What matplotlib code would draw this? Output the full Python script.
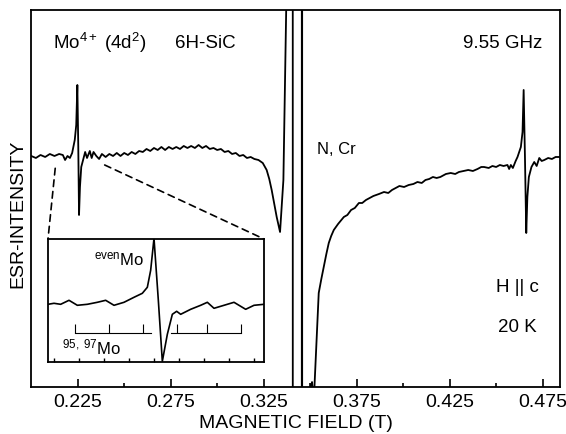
import matplotlib
matplotlib.use('Agg')
import matplotlib.pyplot as plt
from matplotlib.patches import ConnectionPatch
import numpy as np

plt.rcParams['font.family'] = ['Liberation Sans', 'DejaVu Sans']
plt.rcParams['mathtext.fontset'] = 'custom'
plt.rcParams['mathtext.rm'] = 'Liberation Sans'
plt.rcParams['mathtext.it'] = 'Liberation Sans:italic'

# ESR trace, magnetic field (T) vs. intensity (arb. units)
campo_izq = [0.2000, 0.2025, 0.2050, 0.2075, 0.2100, 0.2125, 0.2150, 0.2170, 0.2182, 0.2195,
             0.2208, 0.2220, 0.2234, 0.2242, 0.2248, 0.2253, 0.2257, 0.2262, 0.2269, 0.2280,
             0.2290, 0.2300, 0.2315, 0.2325, 0.2335, 0.2350, 0.2365, 0.2380, 0.2400, 0.2420,
             0.2440, 0.2460, 0.2480, 0.2500, 0.2520, 0.2540, 0.2560, 0.2580, 0.2600, 0.2620,
             0.2640, 0.2660, 0.2680, 0.2700, 0.2720, 0.2740, 0.2760, 0.2780, 0.2800, 0.2820,
             0.2840, 0.2860, 0.2880, 0.2900, 0.2920, 0.2940, 0.2960, 0.2980, 0.3000, 0.3020,
             0.3040, 0.3060, 0.3080, 0.3100, 0.3120, 0.3140, 0.3160, 0.3180, 0.3200, 0.3222,
             0.3245, 0.3266, 0.3280, 0.3293, 0.3320, 0.3338, 0.3356, 0.3372]
int_izq = [231, 229, 232, 230, 233, 231, 233, 232, 227, 231,
           229, 234, 247, 262, 302, 240, 172, 200, 220, 228,
           235, 229, 236, 229, 235, 231, 228, 233, 230, 233,
           231, 234, 231, 234, 232, 235, 233, 236, 235, 238,
           236, 239, 237, 240, 237, 240, 238, 240, 238, 241,
           239, 241, 239, 242, 239, 241, 238, 239, 237, 238,
           235, 236, 233, 234, 231, 232, 229, 230, 228, 227,
           224, 217, 208, 197, 170, 155, 207, 385]

# central N, Cr line (off scale)
campo_centro = [0.3405, 0.3408, 0.3454, 0.3456, 0.3458, 0.3500, 0.3504, 0.3507, 0.3510, 0.3514]
int_centro = [5000, -5000, -5000, 5000, -5000, -5, 3, -2, 5, -5]

campo_der = [0.3523, 0.3535, 0.3546, 0.3560, 0.3573, 0.3587, 0.3600, 0.3613, 0.3627, 0.3650,
             0.3681, 0.3700, 0.3720, 0.3740, 0.3762, 0.3780, 0.3800, 0.3820, 0.3840, 0.3870,
             0.3897, 0.3920, 0.3940, 0.3960, 0.3980, 0.4005, 0.4030, 0.4055, 0.4077, 0.4100,
             0.4120, 0.4140, 0.4160, 0.4180, 0.4200, 0.4230, 0.4256, 0.4280, 0.4300, 0.4325,
             0.4350, 0.4375, 0.4400, 0.4420, 0.4435, 0.4460, 0.4480, 0.4500, 0.4520, 0.4540,
             0.4561, 0.4570, 0.4579, 0.4590, 0.4605, 0.4615, 0.4633, 0.4642, 0.4648, 0.4655,
             0.4662, 0.4668, 0.4676, 0.4690, 0.4705, 0.4718, 0.4732, 0.4745, 0.4759, 0.4780,
             0.4800, 0.4820, 0.4849]
int_der = [0, 50, 94, 108, 120, 133, 144, 151, 157, 163,
           170, 172, 177, 179, 184, 184, 187, 189, 191, 193,
           195, 194, 197, 199, 201, 200, 202, 203, 205, 204,
           207, 208, 210, 209, 210, 213, 214, 213, 215, 216,
           217, 216, 218, 220, 220, 219, 221, 220, 222, 221,
           222, 218, 222, 219, 226, 230, 240, 255, 297, 230,
           154, 190, 210, 220, 225, 221, 229, 226, 227, 229,
           228, 230, 230]

# inset: even Mo line, field offset (arb. units)
off_ins = [-3.33, -3.15, -2.95, -2.70, -2.45, -2.15, -1.85, -1.60, -1.35, -1.05,
           -0.75, -0.50, -0.35, -0.25, -0.15, -0.02, 0.10, 0.25, 0.40, 0.53,
           0.65, 0.95, 1.25, 1.45, 1.65, 1.95, 2.25, 2.60, 2.85, 3.15]
int_ins = [58, 59, 58, 62, 57, 58, 60, 62, 57, 60,
           65, 69, 75, 92, 124, 62, 1, 28, 48, 51,
           48, 53, 57, 60, 54, 57, 60, 53, 57, 58]

# 95,97Mo hyperfine sextet
hf_pos = [-2.53, -1.50, -0.47, 0.55, 1.45, 2.45]
hf_base, hf_top = 29, 38
hf_tramos = [(-2.53, -0.23), (0.37, 2.45)]

fig = plt.figure(figsize=(5.66, 4.34), dpi=100)
ax = fig.add_axes([0.0542, 0.1083, 0.9357, 0.8687])

ax.plot(campo_izq + campo_centro + campo_der, int_izq + int_centro + int_der,
        color='black', lw=1.3)
ax.set_xlim(0.1997, 0.4845)
ax.set_ylim(0, 377)
ax.set_xticks([0.225, 0.275, 0.325, 0.375, 0.425, 0.475])
ax.set_xticks([0.25, 0.30, 0.35, 0.40, 0.45], minor=True)
ax.xaxis.set_major_formatter(matplotlib.ticker.FormatStrFormatter('%.3f'))
ax.tick_params(axis='x', which='major', direction='in', length=6, width=1.2,
               labelsize=14, pad=5)
ax.tick_params(axis='x', which='minor', direction='in', length=3, width=1.2)
ax.set_yticks([])
for s in ax.spines.values():
    s.set_linewidth(1.3)
ax.set_xlabel('MAGNETIC FIELD (T)', fontsize=14, labelpad=3)
ax.set_ylabel('ESR-INTENSITY', fontsize=14)
ax.yaxis.set_label_coords(-0.008, 0.46)

ax.text(53, 434 - 43, r'Mo$^{4+}$ (4d$^2$)', transform=None, fontsize=13.5, va='center')
ax.text(175, 434 - 43, '6H-SiC', transform=None, fontsize=13.5, va='center')
ax.text(542, 434 - 43, '9.55 GHz', transform=None, fontsize=13.5, va='center', ha='right')
ax.text(317, 434 - 150, 'N, Cr', transform=None, fontsize=12, va='center')
ax.text(539, 434 - 288, 'H || c', transform=None, fontsize=13.5, va='center', ha='right')
ax.text(537, 434 - 328, '20 K', transform=None, fontsize=13.5, va='center', ha='right')

# inset
ax_in = fig.add_axes([48 / 566, (434 - 362.3) / 434, 216 / 566, 123.3 / 434])
ax_in.plot(off_ins, int_ins, color='black', lw=1.2)
ax_in.vlines(hf_pos, hf_base, hf_top, color='black', lw=0.8)
for a, b in hf_tramos:
    ax_in.plot([a, b], [hf_base, hf_base], color='black', lw=0.8)
ax_in.set_xlim(-3.33, 3.15)
ax_in.set_ylim(0, 123.3)
ax_in.set_yticks([])
ax_in.set_xticks(np.arange(-3.15, 3.2, 0.75))
ax_in.tick_params(axis='x', direction='in', length=3, width=1.0, labelbottom=False)
for s in ax_in.spines.values():
    s.set_linewidth(1.3)
ax_in.text(-1.95, 103, r'$^{\rm even}$Mo', fontsize=12, va='center')
ax_in.text(-2.9, 15, r'$^{95,\ 97}$Mo', fontsize=12, va='center')

# dashed zoom lines from the Mo line to the inset
for xa, ya, xb in [(0.2129, 218.7, 0), (0.2395, 222, 1)]:
    con = ConnectionPatch(xyA=(xa, ya), coordsA=ax.transData,
                          xyB=(xb, 1), coordsB=ax_in.transAxes,
                          linestyle=(0, (4, 3)), lw=1.2, color='black')
    fig.add_artist(con)

fig.savefig('out.png', dpi=100)
